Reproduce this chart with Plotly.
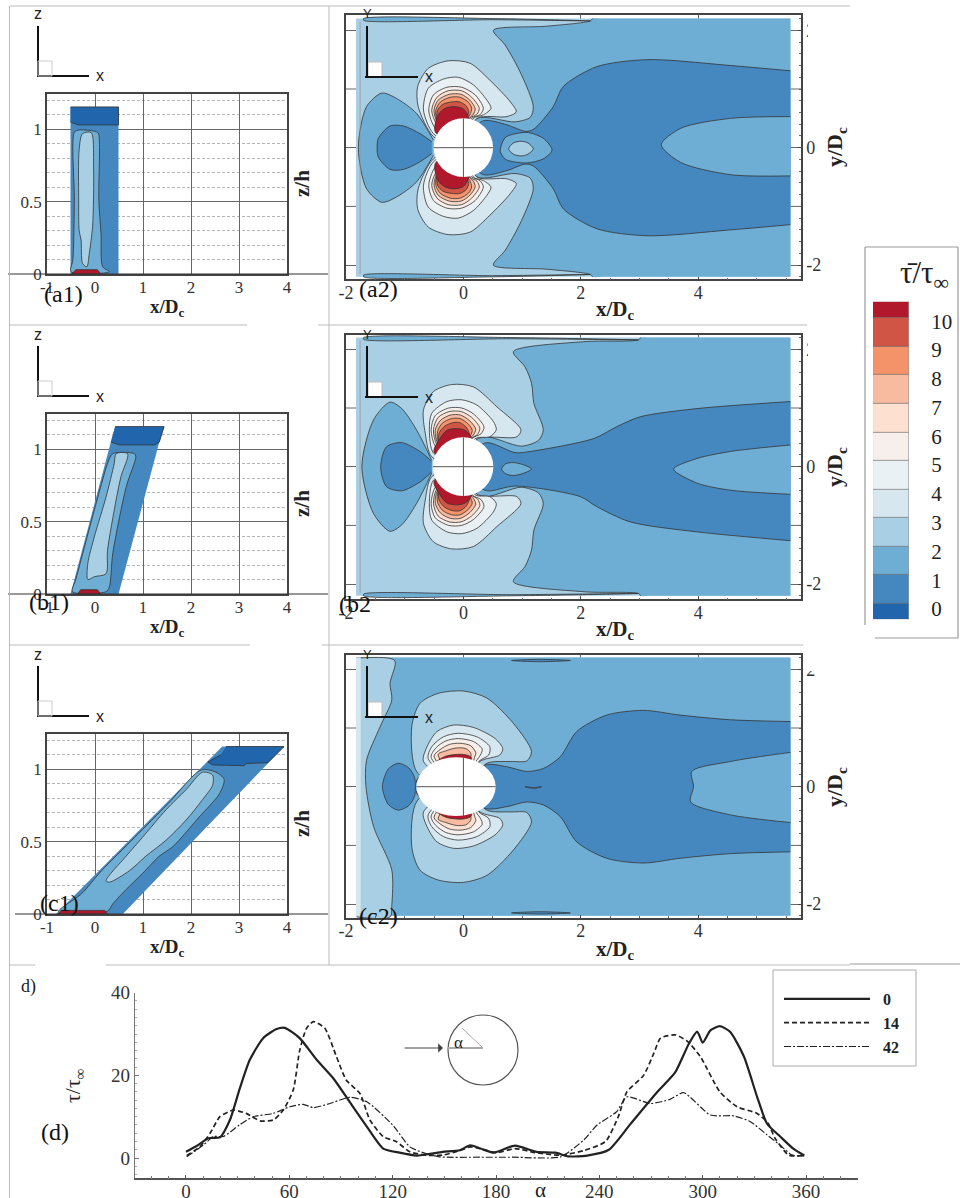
import plotly.graph_objects as go

W, H = 960, 1198
SERIF = "Liberation Serif"
SANS = "Liberation Sans"
INK = "#333333"

# ---------- colour levels ----------
LEVEL_COLORS = ["#2166AC", "#4588BF", "#6FAED4", "#A9CFE4", "#D6E7F0", "#EAF1F5",
                "#F7EFEB", "#FDE0D0", "#F8BBA0", "#F4936A", "#D05545", "#B2182B"]
CB_EDGES = [-0.36, 0.17, 1.18, 2.17, 3.17, 4.16, 5.15, 6.14, 7.12, 8.13, 9.13, 10.14, 10.68]
CB_TICKS = [0, 1, 2, 3, 4, 5, 6, 7, 8, 9, 10]

# ---------- left panels: z/h against x/Dc ----------
A1_OUT = [(-.51, 0), (.49, 0), (.49, 1.155), (-.51, 1.155)]
A1_L0 = [(-.51, 1.155), (.49, 1.155), (.49, 1.03), (-.35, 1.03), (-.51, 1.05)]
A1_L2 = [(-.43, .98), (-.33, .995), (.06, .977), (.09, .926), (.08, .51), (.125, .28), (.16, .05), (.30, .016),
         (-.50, .016), (-.46, .10), (-.43, .51), (-.43, .98)]
A1_L3 = [(-.26, .97), (-.08, .977), (-.03, .74), (-.05, .33), (-.12, .14), (-.17, .05), (-.26, .074), (-.29, .235),
         (-.33, .30), (-.34, .51), (-.33, .86), (-.26, .97)]
A1_RED = [(-.48, 0), (-.40, .03), (.05, .03), (.12, 0)]

B1_OUT = [(-.51, 0), (.49, 0), (1.34, 1.05), (1.44, 1.155), (.42, 1.155), (.33, 1.05)]
B1_L0 = [(.42, 1.157), (1.44, 1.157), (1.34, 1.05), (1.24, 1.03), (.51, 1.03), (.33, 1.05)]
B1_L2 = [(.37, .97), (.82, .97), (.85, .95), (.65, .74), (.37, .28), (.30, .05), (.23, .016), (-.47, .016),
         (-.40, .10), (-.16, .40), (.16, .79), (.26, .90), (.37, .97)]
B1_L3 = [(.44, .97), (.68, .97), (.54, .81), (.44, .65), (.26, .30), (.23, .14), (-.01, .12), (-.15, .10),
         (-.15, .21), (-.01, .40), (.23, .67), (.40, .90), (.44, .97)]
B1_RED = [(-.36, 0), (-.30, .03), (.05, .03), (.12, 0)]

C1_OUT = [(-.81, 0), (.58, 0), (3.94, 1.157), (2.65, 1.157)]
C1_L0 = [(2.73, 1.157), (3.94, 1.157), (3.60, 1.046), (3.15, 1.04), (3.11, 1.025), (2.45, 1.03), (2.35, 1.05), (2.62, 1.10)]
C1_L2 = [(2.21, .995), (2.52, .98), (2.69, .93), (2.59, .83), (2.17, .67), (1.62, .465), (1.34, .40), (.99, .28),
         (.65, .17), (.37, .07), (.26, .02), (-.76, .016), (-.28, .14), (.14, .30), (.83, .53), (1.53, .765), (2.21, .995)]
C1_L3 = [(2.24, .98), (2.45, .96), (2.45, .89), (2.24, .79), (1.90, .65), (1.48, .51), (1.06, .40), (.72, .30),
         (.30, .22), (.23, .23), (.65, .40), (.99, .53), (1.48, .72), (1.90, .86), (2.24, .98)]
C1_RED = [(-.78, 0), (-.70, .025), (.20, .025), (.26, 0)]

# ---------- right panels: y/Dc against x/Dc (upper half, mirrored about y=0) ----------
A2_L2 = [(5.57, 2.2), (3.5, 2.2), (2.4, 2.2), (2.2, 2.2), (2.16, 2.16), (1.42, 2.07), (.51, 2.0), (.71, 1.75), (.99, 1.24),
         (1.19, .70), (1.14, .52), (.88, .44), (.23, .50), (0, 0)]
A2_SLIVER = [(-1.7, 2.2), (.5, 2.2), (2.16, 2.16), (.5, 2.18), (-1.7, 2.17), (-1.7, 2.2)]
A2_LEFT2 = [(-.51, .13), (-.80, .585), (-1.14, .84), (-1.39, .93), (-1.65, .70), (-1.79, 0)]
A2_LEFT1 = [(-.54, .10), (-.74, .24), (-1.02, .37), (-1.25, .37), (-1.45, .16), (-1.47, 0)]
A2_L1 = [(5.57, 1.31), (4.55, 1.40), (3.13, 1.50), (2.27, 1.38), (1.70, 1.04), (1.53, .70), (1.19, .31), (1.05, .28),
         (.74, .39), (.34, .46), (.11, .24), (0, 0)]
A2_TONGUE = [(5.57, .53), (4.55, .50), (3.70, .33), (3.37, .05), (3.70, -.25), (4.55, -.46), (5.57, -.48)]
A2_RING = [(.64, .02), (.72, .18), (1.08, .26), (1.36, .16), (1.51, -.04), (1.36, -.19), (1.08, -.26), (.72, -.20),
           (.63, -.07), (.64, .02)]
A2_ISLE = [(.77, -.02), (.85, .08), (.98, .11), (1.10, .08), (1.19, -.02), (1.10, -.11), (.98, -.14), (.85, -.11), (.77, -.02)]
A2_LOBES = [
    (4, [(-.51, .19), (-.77, .70), (-.78, 1.04), (-.60, 1.35), (-.26, 1.48), (.11, 1.44), (.45, 1.15), (.80, .78),
         (.90, .61), (.74, .53), (.23, .50), (0, 0)]),
    (5, [(-.51, .24), (-.68, .64), (-.60, 1.01), (-.34, 1.17), (-.09, 1.20), (.17, 1.07), (.40, .81), (.47, .67),
         (.34, .56), (.17, .50), (0, 0)]),
    (6, [(-.48, .33), (-.59, .64), (-.51, .90), (-.28, 1.03), (-.03, 1.03), (.20, .90), (.34, .67), (.28, .56), (.14, .50), (0, 0)]),
    (7, [(-.45, .39), (-.54, .64), (-.45, .86), (-.26, .97), (-.03, .97), (.14, .86), (.27, .67), (.23, .57), (.11, .50), (0, 0)]),
    (8, [(-.44, .42), (-.50, .64), (-.43, .81), (-.24, .91), (-.04, .91), (.11, .81), (.20, .67), (.17, .57), (.10, .50), (0, 0)]),
    (9, [(-.44, .44), (-.47, .64), (-.39, .78), (-.22, .86), (-.06, .86), (.09, .77), (.14, .67), (.11, .56), (.07, .50), (0, 0)]),
    (10, [(-.44, .47), (-.44, .64), (-.35, .74), (-.20, .78), (-.06, .78), (.05, .71), (.09, .61), (.07, .53), (0, 0)]),
    (11, [(-.48, .27), (-.43, .56), (-.31, .67), (-.16, .70), (0, .66), (.09, .50), (0, 0)]),
]

B2_L2 = [(5.57, 2.2), (4.5, 2.2), (3.2, 2.2), (3.02, 2.2), (2.98, 2.16), (2.05, 2.13), (.85, 1.96), (1.05, 1.70), (1.16, 1.42),
         (1.20, 1.08), (1.36, .63), (1.28, .45), (.99, .35), (.28, .51), (0, 0)]
B2_SLIVER = [(-1.7, 2.2), (.8, 2.2), (2.98, 2.16), (.8, 2.18), (-1.7, 2.17), (-1.7, 2.2)]
B2_LEFT2 = [(-.54, .11), (-.80, .63), (-1.05, .99), (-1.25, 1.10), (-1.53, .80), (-1.73, 0)]
B2_LEFT1 = [(-.54, .09), (-.74, .26), (-1.05, .41), (-1.31, .34), (-1.41, 0)]
B2_L1 = [(5.57, 1.11), (3.98, .99), (3.01, .85), (2.61, .68), (2.22, .48), (1.14, .26), (.88, .24), (.40, .41), (.11, .23),
         (0, 0), (.11, -.23), (.40, -.41), (.88, -.33), (1.99, -.51), (2.27, -.68), (2.84, -.94), (3.98, -1.11), (5.57, -1.26)]
B2_TONGUE = [(5.57, .37), (4.55, .26), (3.98, .14), (3.58, -.04), (3.98, -.28), (4.55, -.40), (5.57, -.47)]
B2_ISLE = [(.65, -.04), (.72, .05), (.85, .07), (1.0, .04), (1.16, -.04), (1.0, -.12), (.85, -.15), (.72, -.12), (.65, -.04)]
B2_LOBES = [
    (4, [(-.54, .17), (-.65, .57), (-.68, .97), (-.51, 1.28), (-.20, 1.40), (.17, 1.36), (.57, 1.02), (.98, .63),
         (.91, .51), (.23, .47), (0, 0)]),
    (5, [(-.51, .23), (-.58, .63), (-.54, .91), (-.28, 1.11), (-.03, 1.14), (.23, 1.05), (.51, .77), (.56, .63),
         (.45, .51), (.20, .48), (0, 0)]),
    (6, [(-.47, .33), (-.55, .63), (-.48, .87), (-.25, 1.0), (-.03, 1.0), (.17, .90), (.35, .68), (.30, .56), (.15, .48), (0, 0)]),
    (7, [(-.45, .37), (-.51, .63), (-.43, .84), (-.24, .94), (-.04, .94), (.14, .84), (.28, .66), (.24, .55), (.12, .47), (0, 0)]),
    (8, [(-.44, .40), (-.48, .62), (-.39, .79), (-.22, .88), (-.05, .88), (.11, .78), (.21, .64), (.17, .54), (.10, .47), (0, 0)]),
    (9, [(-.43, .42), (-.44, .60), (-.36, .74), (-.20, .82), (-.06, .82), (.08, .73), (.15, .62), (.12, .53), (.08, .47), (0, 0)]),
    (10, [(-.42, .45), (-.41, .58), (-.32, .69), (-.18, .75), (-.06, .75), (.05, .67), (.10, .56), (.07, .49), (0, 0)]),
    (11, [(-.50, .25), (-.40, .48), (-.28, .62), (-.12, .65), (.03, .62), (.14, .48), (0, 0)]),
]

C2_STRIP = [(-1.82, 2.19), (-1.17, 2.15), (-1.25, 1.76), (-1.22, 1.48), (-1.42, 1.02), (-1.65, .45), (-1.66, 0),
            (-1.53, -.68), (-1.22, -1.42), (-1.22, -2.02), (-1.25, -2.22), (-1.82, -2.22)]
C2_EDGE = [(-1.83, 2.2), (-1.75, 2.2), (-1.75, -2.2), (-1.83, -2.2)]
C2_L1 = [(5.57, 1.11), (4.55, 1.14), (3.69, 1.22), (3.07, 1.30), (2.44, 1.22), (1.93, .94), (1.65, .51), (1.36, .31),
         (1.08, .26), (.74, .34), (.37, .37), (0, 0)]
C2_TONGUE = [(5.57, .585), (4.55, .43), (3.89, .26), (3.92, 0), (3.87, -.26), (4.55, -.48), (5.57, -.61)]
C2_WAKE = [(1.05, 0), (1.2, -.03), (1.33, 0), (1.2, -.015), (1.05, 0)]
C2_LEFT1 = [(-.83, .15), (-.93, .32), (-1.11, .40), (-1.28, .30), (-1.38, 0), (-1.28, -.30), (-1.11, -.40), (-.93, -.32),
            (-.83, -.15), (-.83, .15)]
C2_SLIVER = [(.82, 2.15), (1.3, 2.17), (1.82, 2.15), (1.3, 2.13), (.82, 2.15)]
C2_LOBES = [
    (3, [(-.78, .23), (-.88, 1.02), (-.74, 1.42), (-.43, 1.59), (0, 1.63), (.40, 1.51), (.85, 1.08), (1.16, .60),
         (1.08, .44), (.80, .43), (.40, .40), (0, 0)]),
    (4, [(-.68, .43), (-.62, .68), (-.45, .94), (-.17, 1.05), (.17, 1.01), (.54, .82), (.67, .65), (.62, .54), (.28, .43), (0, 0)]),
    (5, [(-.60, .48), (-.54, .68), (-.34, .85), (-.09, .91), (.23, .85), (.45, .68), (.43, .54), (.26, .43), (0, 0)]),
    (6, [(-.55, .50), (-.47, .66), (-.30, .78), (-.09, .82), (.17, .77), (.32, .64), (.29, .54), (.22, .44), (0, 0)]),
    (7, [(-.50, .52), (-.40, .63), (-.24, .72), (-.06, .74), (.12, .70), (.21, .58), (.19, .50), (0, 0)]),
    (8, [(-.43, .55), (-.30, .61), (-.12, .66), (.04, .65), (.12, .58), (.13, .52), (0, 0)]),
    (11, [(-.80, .08), (-.55, .36), (-.30, .52), (0, .55), (.13, .50), (0, 0)]),
]

# ---------- panel d: wall shear along the cylinder ----------
ALPHA_0 = [0, 6.2, 13, 19.7, 25.5, 31.3, 37, 44.8, 52.6, 57.4, 66, 76, 85.5, 95, 105, 114.5, 124, 134, 141.6, 149, 159, 165,
           171, 178.7, 191, 203.5, 214.5, 222, 232.9, 245.5, 258, 273.5, 284, 291.9, 296.8, 300, 304.5, 310, 316, 324,
           331.6, 337.4, 345, 352.8, 359]
TAU_0 = [1.5, 2.9, 4.8, 5, 9.2, 16.9, 23.7, 29, 31.2, 31.5, 29, 23.7, 19.3, 13.6, 7.6, 2.3, 1.3, .6, 1, 1.5, 1.9, 3.1,
         2.3, 1.3, 3, 1.5, 1.3, .4, .6, 2, 8.2, 15.9, 20.7, 27.6, 30.6, 27.9, 30.9, 31.9, 30.5, 24.5, 14.8, 8.3, 5.2, 2.2, .6]
ALPHA_14 = [.4, 8, 14, 19.7, 27.5, 35, 43, 50.7, 56.5, 62.3, 66, 70, 74, 80.6, 87.4, 93, 101, 106.8, 114.5, 122, 130, 139.6,
            149, 159, 165, 170.6, 180.6, 191, 203, 217.5, 231, 243.6, 251, 256, 265.7, 271.6, 275.5, 284, 291, 298.7, 310,
            320, 331.6, 338, 342, 350, 359]
TAU_14 = [.6, 2.7, 6, 10, 11.6, 10.8, 9, 9.2, 11.6, 16.5, 26, 31.4, 33, 31.4, 24.5, 18.9, 15.6, 9.2, 5.2, 4, 1.5, .7,
          .7, 1.8, 2.7, 2.3, 1.3, 2.3, 1.3, .7, 1.8, 4, 10, 16, 20, 25.3, 29, 29.8, 28.3, 24.5, 16, 12.4, 10.8, 8.4, 4.8, .7, .6]
ALPHA_42 = [.4, 10, 16, 21.7, 31, 39, 50.7, 60.3, 68, 74, 83.6, 95, 105, 120, 130, 137.7, 147.4, 170.6, 190, 217.5, 231,
            238.7, 250, 256, 269.7, 281, 289, 304.5, 318, 327.7, 337.4, 345, 352, 359]
TAU_42 = [.3, 3.1, 5.2, 5.2, 8, 10, 10.8, 12.4, 13, 12.2, 13.2, 14.7, 13.6, 8, 2.7, 1.3, .3, .2, .2, .3, 4.4,
          8, 11.2, 14.8, 13.2, 14.2, 15.8, 10.4, 10.2, 8.8, 5.6, 3.1, .7, .5]
D_XTICKS = [0, 60, 120, 180, 240, 300, 360]
D_YTICKS = [0, 20, 40]


def px(x):
    return x / W


def py(y):
    return 1 - y / H


fig = go.Figure()
layout = {}
shapes = []
annotations = []


def line(x0, y0, x1, y1, color="#bbbbbb", width=1):
    shapes.append(dict(type="line", xref="paper", yref="paper", x0=px(x0), x1=px(x1), y0=py(y0), y1=py(y1),
                       line=dict(color=color, width=width), layer="above"))


def rect(x0, y0, x1, y1, fill="rgba(0,0,0,0)", color="rgba(0,0,0,0)", width=1):
    shapes.append(dict(type="rect", xref="paper", yref="paper", x0=px(x0), x1=px(x1), y0=py(y0), y1=py(y1),
                       fillcolor=fill, line=dict(color=color, width=width), layer="above"))


def ann(x, y, text, size, family=SERIF, angle=0, color="#222222", anchor="center"):
    annotations.append(dict(xref="paper", yref="paper", x=px(x), y=py(y), text=text, showarrow=False, textangle=angle,
                            font=dict(family=family, size=size, color=color), xanchor=anchor, yanchor="middle"))


def band(n, pts, level, skip=0, smooth=True, outline=True):
    """Filled contour band drawn on axes n; skip leaves the first and last points unstroked."""
    xs, ys = [p[0] for p in pts], [p[1] for p in pts]
    ax = dict(xaxis=f"x{n}", yaxis=f"y{n}", mode="lines", showlegend=False, hoverinfo="skip")
    shape = "spline" if smooth else "linear"
    stroke = outline and skip == 0
    fig.add_trace(go.Scatter(x=xs, y=ys, fill="toself", fillcolor=LEVEL_COLORS[level],
                             line=dict(color="#333333" if stroke else "rgba(0,0,0,0)", width=.8 if stroke else 0,
                                       shape=shape, smoothing=.8), **ax))
    if outline and skip:
        fig.add_trace(go.Scatter(x=xs[skip:-skip], y=ys[skip:-skip],
                                 line=dict(color="#333333", width=.8, shape=shape, smoothing=.8), **ax))


def sym(upper):
    return upper + [(x, -y) for x, y in reversed(upper[:-1])]


def flip(pts):
    return [(x, -y) for x, y in pts]


def lobes(n, spec):
    for level, pts in spec:
        band(n, pts + [pts[0]], level)
        band(n, flip(pts + [pts[0]]), level)


def axes(n, left, top, right, bottom, xcfg, ycfg):
    sx = "" if n == 1 else str(n)
    layout["xaxis" + sx] = dict(domain=[px(left), px(right)], anchor=f"y{sx}", **xcfg)
    layout["yaxis" + sx] = dict(domain=[py(bottom), py(top)], anchor=f"x{sx}", **ycfg)


FRAME = dict(showline=True, linecolor="#444444", linewidth=1.5, mirror=True, zeroline=False)
GRID = dict(showgrid=True, gridcolor="#666666", gridwidth=1)


def left_panel(n, top, out, l0, l2, l3, red):
    axes(n, 47, top, 287, top + 180,
         dict(range=[-1, 4], tickvals=[-1, 0, 1, 2, 3, 4], ticktext=["-1", "0", "1", "2", "3", "4"], ticklabelstandoff=-3,
              tickfont=dict(family=SERIF, size=17, color=INK), ticks="", **FRAME, **GRID),
         dict(range=[0, 1.244], tickvals=[0, .5, 1], ticktext=["0", "0.5", "1"],
              tickfont=dict(family=SERIF, size=17, color=INK), ticks="",
              minor=dict(dtick=.1, tick0=0, showgrid=True, gridcolor="#b5b5b5", griddash="3px,2px", gridwidth=1),
              **FRAME, **GRID))
    band(n, out + [out[0]], 1, smooth=False, outline=False)
    band(n, l0, 0, smooth=False)
    band(n, l2, 2)
    band(n, l3, 3)
    band(n, red + [red[0]], 11, smooth=False)


def right_panel(n, top, bottom, yzero):
    axes(n, 346, top, 801, bottom,
         dict(range=[-2, 5.75], tickvals=[-2, 0, 2, 4], ticktext=["-2", "0", "2", "4"], ticklabelstandoff=-4,
              tickfont=dict(family=SERIF, size=18, color=INK), ticks="inside", ticklen=3, tickcolor="#444444",
              minor=dict(dtick=.5, tick0=0, ticks="inside", ticklen=2, tickcolor="#666666"), **FRAME, **GRID),
         dict(range=[(yzero - bottom) / 58.7, (yzero - top) / 58.7], side="right",
              tickvals=[-2, 0, 2], ticktext=["-2", "0", "2"],
              tickfont=dict(family=SERIF, size=18, color=INK), ticks="inside", ticklen=3, tickcolor="#444444",
              minor=dict(dtick=.2, tick0=0, ticks="inside", ticklen=2, tickcolor="#666666"), **FRAME, **GRID))
    for v in (-1, 1):
        fig.add_trace(go.Scatter(x=[-2, 5.75], y=[v, v], xaxis=f"x{n}", yaxis=f"y{n}", mode="lines", showlegend=False,
                                 hoverinfo="skip", line=dict(color="#666666", width=1)))
    band(n, [(-1.83, -2.2), (5.57, -2.2), (5.57, 2.2), (-1.83, 2.2), (-1.83, -2.2)], 3, smooth=False, outline=False)


# left column
left_panel(1, 94, A1_OUT, A1_L0, A1_L2, A1_L3, A1_RED)
left_panel(2, 414, B1_OUT, B1_L0, B1_L2, B1_L3, B1_RED)
left_panel(3, 734, C1_OUT, C1_L0, C1_L2, C1_L3, C1_RED)

# a2
right_panel(4, 15, 279.3, 147.7)
band(4, sym(A2_L2), 2, skip=3)
for s in (A2_SLIVER, flip(A2_SLIVER)):
    band(4, s, 2)
band(4, sym(A2_LEFT2), 2)
band(4, sym(A2_L1), 1)
band(4, A2_TONGUE, 2)
band(4, A2_RING, 2)
band(4, A2_ISLE, 3)
band(4, sym(A2_LEFT1), 1)
lobes(4, A2_LOBES)

# b2
right_panel(5, 335, 599.3, 466.7)
band(5, sym(B2_L2), 2, skip=3)
for s in (B2_SLIVER, flip(B2_SLIVER)):
    band(5, s, 2)
band(5, sym(B2_LEFT2), 2)
band(5, B2_L1, 1)
band(5, B2_TONGUE, 2)
band(5, B2_ISLE, 2)
band(5, sym(B2_LEFT1), 1)
lobes(5, B2_LOBES)

# c2
right_panel(6, 655, 918, 786.7)
band(6, [(-1.83, -2.2), (5.57, -2.2), (5.57, 2.2), (-1.83, 2.2), (-1.83, -2.2)], 2, smooth=False, outline=False)
band(6, C2_STRIP, 3)
band(6, C2_EDGE, 4, smooth=False, outline=False)
band(6, sym(C2_L1), 1)
band(6, C2_TONGUE, 2)
band(6, C2_WAKE, 2)
band(6, C2_LEFT1, 1)
for s in (C2_SLIVER, flip(C2_SLIVER)):
    band(6, s, 1)
lobes(6, C2_LOBES)

# thin contour near the inlet of a2 and b2
for n in (4, 5):
    fig.add_trace(go.Scatter(x=[-1.76, -1.76], y=[2.15, -2.15], xaxis=f"x{n}", yaxis=f"y{n}", mode="lines", showlegend=False,
                             hoverinfo="skip", line=dict(color="#999999", width=.8)))

# body cross-sections with their centre lines
for n, x0, x1, ry in ((4, -.505, .505, .5), (5, -.52, .51, .5), (6, -.80, .55, .5)):
    shapes.append(dict(type="circle", xref=f"x{n}", yref=f"y{n}", x0=x0, x1=x1, y0=-ry, y1=ry, fillcolor="white",
                       line=dict(color="rgba(0,0,0,0)", width=0), layer="above"))
    for a in (dict(x0=x0, x1=x1, y0=0, y1=0), dict(x0=0, x1=0, y0=-ry, y1=ry)):
        shapes.append(dict(type="line", xref=f"x{n}", yref=f"y{n}", line=dict(color="#555555", width=1), layer="above", **a))

# colour scale
axes(7, 873, 301.7, 909, 619.3,
     dict(range=[-.5, .5], visible=False),
     dict(range=[CB_EDGES[0], CB_EDGES[-1]], side="right", showgrid=False, zeroline=False, showline=False,
          tickvals=CB_TICKS, ticktext=[str(v) for v in CB_TICKS], ticks="outside", ticklen=17,
          tickcolor="rgba(0,0,0,0)", tickfont=dict(family=SERIF, size=21, color="#222222")))
fig.add_trace(go.Bar(x=[0] * len(LEVEL_COLORS), y=[b - a for a, b in zip(CB_EDGES, CB_EDGES[1:])], base=CB_EDGES[:-1],
                     width=1, xaxis="x7", yaxis="y7", showlegend=False, hoverinfo="skip",
                     marker=dict(color=LEVEL_COLORS, line=dict(color="rgba(90,90,90,.55)", width=.8))))
line(865, 247, 865, 625, "#999999", 1.2)
line(865, 247, 958, 247, "#999999", 1.2)
line(958, 247, 958, 638, "#999999", 1.2)
line(875, 638, 958, 638, "#999999", 1.2)
ann(924, 275, "τ̄/τ<sub>∞</sub>", 31)

# panel d
axes(8, 135, 992.7, 857.7, 1178.3,
     dict(range=[-29.6, 390], tickvals=D_XTICKS, ticktext=[str(v) for v in D_XTICKS], showline=True, linecolor="#555555",
          linewidth=1.5, showgrid=False, zeroline=False, ticks="inside", ticklen=4, tickcolor="#555555", ticklabelstandoff=-5,
          tickfont=dict(family=SERIF, size=19, color=INK),
          minor=dict(dtick=10, tick0=0, ticks="inside", ticklen=3, tickcolor="#777777")),
     dict(range=[-4.9, 40], tickvals=D_YTICKS, ticktext=[str(v) for v in D_YTICKS], showline=True, linecolor="#777777",
          linewidth=1.2, showgrid=False, zeroline=False, ticks="inside", ticklen=4, tickcolor="#777777",
          tickfont=dict(family=SERIF, size=19, color=INK),
          minor=dict(dtick=2, tick0=0, ticks="inside", ticklen=2, tickcolor="#aaaaaa")))
for name, xs, ys, dash, w in (("\u00a0\u00a00", ALPHA_0, TAU_0, "solid", 2.2), ("\u00a0\u00a014", ALPHA_14, TAU_14, "5px,3px", 1.7),
                              ("\u00a0\u00a042", ALPHA_42, TAU_42, "7px,2px,2px,2px", 1.2)):
    fig.add_trace(go.Scatter(x=xs, y=ys, name=name, mode="lines", xaxis="x8", yaxis="y8", hoverinfo="skip",
                             line=dict(color="#222222", width=w, dash=dash, shape="spline", smoothing=.6)))
rect(773, 970, 916, 1066, "rgba(255,255,255,0)", "#aaaaaa", 1)

# inset cylinder sketch
shapes.append(dict(type="circle", xref="paper", yref="paper", x0=px(448), x1=px(518), y0=py(1085), y1=py(1015),
                   line=dict(color="#555555", width=1.2), layer="above"))
line(448, 1048, 483, 1048, "#aaaaaa", 2)
line(462, 1028, 483, 1048, "#aaaaaa", 1)
annotations.append(dict(xref="paper", yref="paper", axref="pixel", ayref="pixel", x=px(443), y=py(1048), ax=-40, ay=0, text="",
                        showarrow=True, arrowhead=1, arrowsize=1.6, arrowwidth=1, arrowcolor="#444444"))
ann(458, 1042, "α", 17)

# panel texts
for x, y, t in ((63, 294, "(a1)"), (49, 602, "(b1)"), (59, 903, "(c1)"), (378, 289, "(a2)"), (355, 604, "(b2"),
                (378, 916, "(c2)"), (55, 1132, "(d)")):
    ann(x, y, t, 24, color="#111111")
ann(28, 986, "d)", 18)
ann(74, 1086, "τ/τ<sub>∞</sub>", 22, angle=-90)
ann(540, 1190, "α", 21)
for dy in (0, 320, 640):
    ann(167, 308 + dy, "<b>x/D<sub>c</sub></b>", 19)
    ann(615, 310 + dy, "<b>x/D<sub>c</sub></b>", 21)
    ann(302, 184 + dy, "<b>z/h</b>", 21, angle=-90)
    ann(836, 147 + dy, "<b>y/D<sub>c</sub></b>", 22, angle=-90)
    # coordinate triads
    line(38, 26 + dy, 38, 76 + dy, "#111111", 2)
    line(37, 76 + dy, 89, 76 + dy, "#111111", 2)
    rect(38, 61 + dy, 52, 76 + dy, "rgba(0,0,0,0)", "#cccccc", 1)
    ann(38, 14 + dy, "z", 16, SANS)
    ann(100, 76 + dy, "x", 16, SANS)
    rect(368, 62 + dy, 382, 77 + dy, "white", "#bbbbbb", 1)
    line(367, 26 + dy, 367, 78 + dy, "#111111", 2)
    line(365, 77 + dy, 418, 77 + dy, "#111111", 2)
    ann(367, 14 + dy, "Y", 13, SANS)
    ann(429, 77 + dy, "x", 16, SANS)
    # wall line across the left panel
    line(8 if dy < 640 else 15, 274 + dy, 328, 274 + dy, "#333333", 1.2)

# sheet rules of the composite figure
line(9.5, 6, 9.5, 1198)
line(329, 6, 329, 965)
line(10, 6, 850, 6)
for y, a, b, c in ((325, 247, 318, 807), (645, 250, 322, 803)):
    line(10, y, a, y)
    line(b, y, c, y)
line(10, 965, 35, 965)
line(106, 965, 850, 965)
line(850, 964, 960, 964, "#bbbbbb", 1.5)

# crop of the right-hand "2" labels, as in the composite
rect(808, 18, 850, 42, "white")
rect(808, 338, 850, 362, "white")
rect(803, 658, 850, 671, "white")

fig.update_layout(
    width=W, height=H, autosize=False, margin=dict(l=0, r=0, t=0, b=0, pad=0, autoexpand=False),
    paper_bgcolor="white", plot_bgcolor="white",
    barmode="overlay", bargap=0, shapes=shapes, annotations=annotations,
    legend=dict(x=px(779), y=py(982), xanchor="left", yanchor="top", bgcolor="rgba(0,0,0,0)", itemwidth=86, tracegroupgap=0,
                font=dict(family=SERIF, size=16, color="#222222", weight="bold")),
    **layout)
fig.write_html("out.html", config={"displayModeBar": False},
               post_script="document.documentElement.style.overflow='hidden';document.body.style.margin='0';")
